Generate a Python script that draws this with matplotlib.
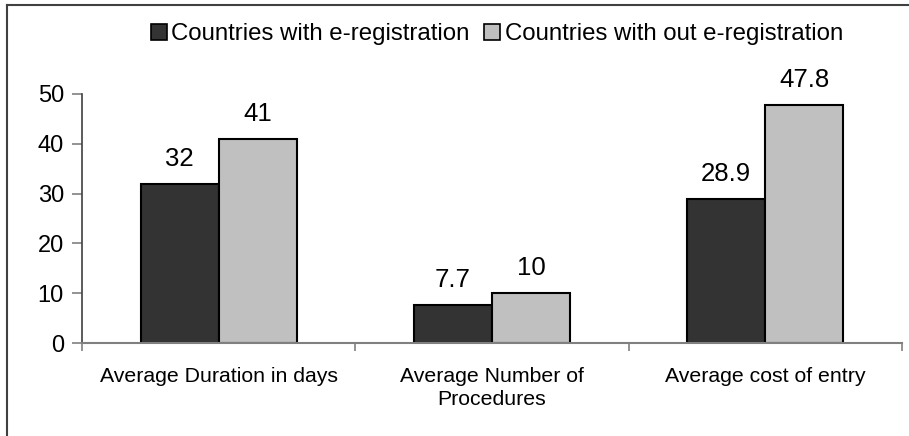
import matplotlib
matplotlib.use("Agg")
import matplotlib.pyplot as plt
from matplotlib.lines import Line2D
from matplotlib.patches import Patch
import numpy as np

categories = ["Average Duration in days", "Average Number of\nProcedures", "Average cost of entry"]
series_names = ["Countries with e-registration", "Countries with out e-registration"]
with_ereg = [32, 7.7, 28.9]
without_ereg = [41, 10, 47.8]
value_labels_with = ["32", "7.7", "28.9"]
value_labels_without = ["41", "10", "47.8"]
yticks = [0, 10, 20, 30, 40, 50]

plt.rcParams['font.family'] = ['Liberation Sans', 'DejaVu Sans']

W, H = 909, 436
fig = plt.figure(figsize=(W/100, H/100), dpi=100)
ax = fig.add_axes([82/W, (H-343)/H, (902-82)/W, (343-94)/H])

x = np.arange(len(categories)) + 0.5
bw = 78/273
dark = "#333333"
light = "#c0c0c0"
b1 = ax.bar(x - bw/2, with_ereg, bw, color=dark, edgecolor="black", linewidth=1.5)
b2 = ax.bar(x + bw/2, without_ereg, bw, color=light, edgecolor="black", linewidth=1.5)

for bars, labs in ((b1, value_labels_with), (b2, value_labels_without)):
    for r, t in zip(bars, labs):
        ax.annotate(t, (r.get_x() + r.get_width()/2, r.get_height()),
                    xytext=(0, 13), textcoords="offset points",
                    ha="center", va="baseline", fontsize=18.5)

ax.set_xlim(0, 3)
ax.set_ylim(0, 50)
ax.set_yticks(yticks)
ax.set_yticklabels([str(v) for v in yticks], fontsize=17)
ax.set_xticks(x)
ax.set_xticklabels(categories, fontsize=15.3, linespacing=1.3)
ax.tick_params(axis="x", length=0, pad=17)
ax.set_xticks([0, 1, 2, 3], minor=True)
ax.tick_params(axis="x", which="minor", length=6, direction="out", color="#808080", width=1.2)
ax.tick_params(axis="y", length=7, direction="out", color="#808080", width=1.2, pad=6)

for s in ("top", "right"):
    ax.spines[s].set_visible(False)
ax.spines["left"].set_color("#404040")
ax.spines["bottom"].set_color("#808080")
ax.spines["left"].set_linewidth(1.2)
ax.spines["bottom"].set_linewidth(1.5)

handles = [Patch(facecolor=dark, edgecolor="black", linewidth=1.2),
           Patch(facecolor=light, edgecolor="black", linewidth=1.2)]
fig.legend(handles, series_names, loc="center", bbox_to_anchor=(497/W, 1 - 34/H),
           ncol=2, frameon=False, fontsize=17.3, handlelength=0.65, handleheight=0.65,
           handletextpad=0.2, columnspacing=0.6)

fig.add_artist(Line2D([7/W, 7/W], [0, 1 - 5/H], transform=fig.transFigure, color="#404040", lw=1.5))
fig.add_artist(Line2D([7/W, 1], [1 - 5/H, 1 - 5/H], transform=fig.transFigure, color="#404040", lw=1.5))

fig.savefig("out.png", dpi=100)
